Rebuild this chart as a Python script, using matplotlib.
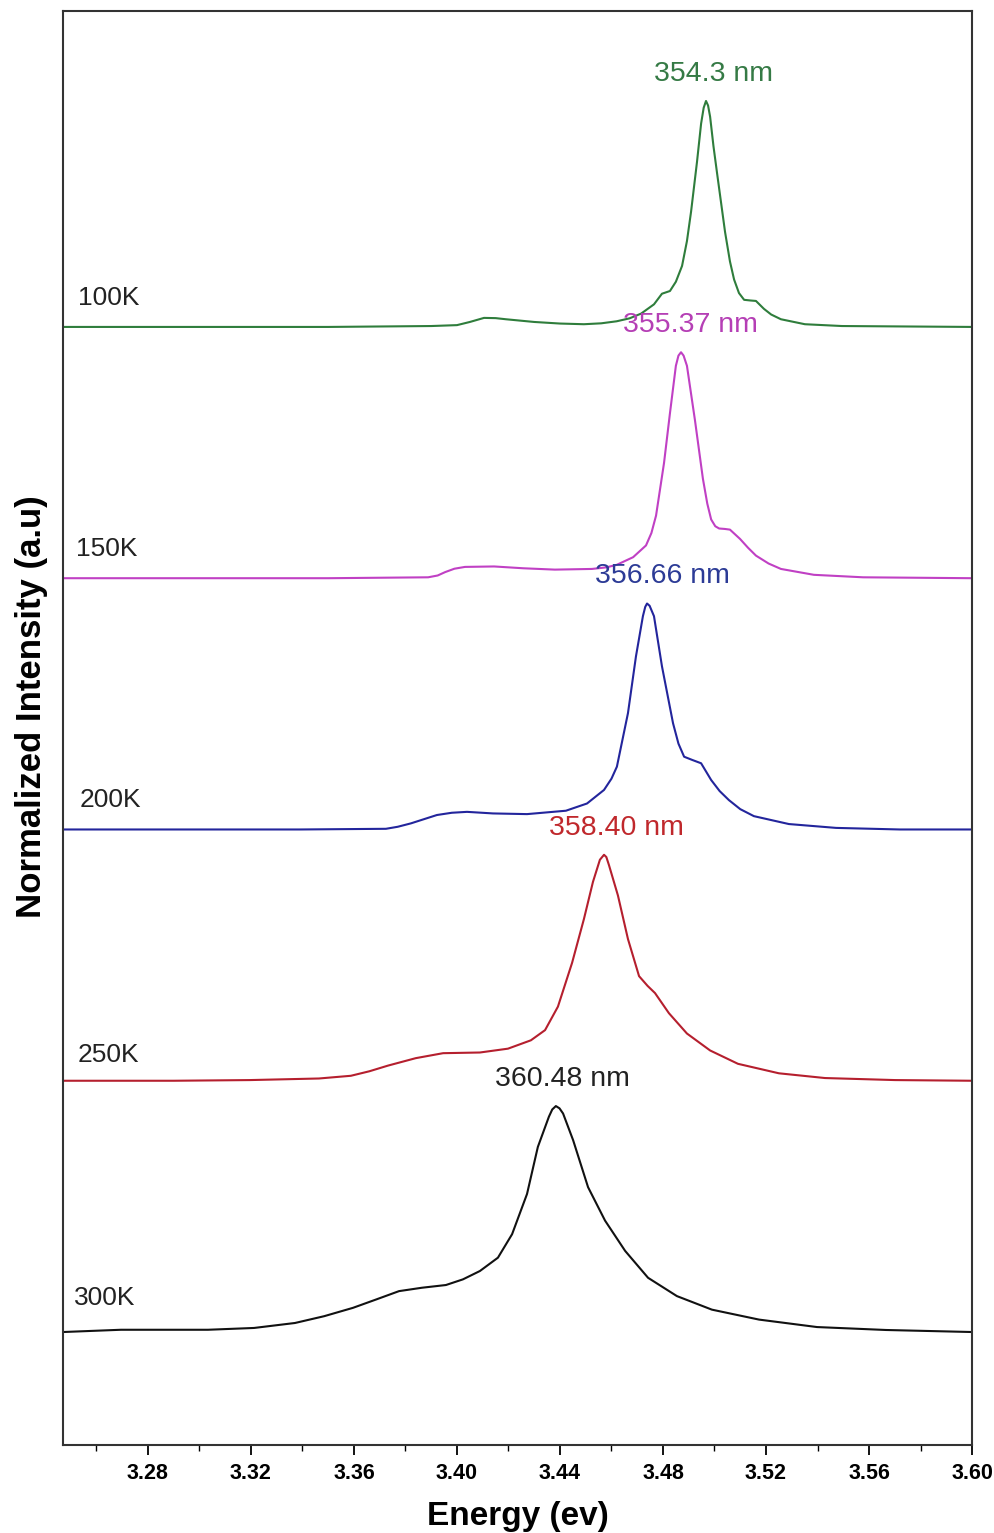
import matplotlib
matplotlib.use("Agg")
import matplotlib.pyplot as plt
from matplotlib.ticker import MultipleLocator

plt.rcParams["font.family"] = ["Liberation Sans", "DejaVu Sans"]

# Spectra: photon energy (eV) and normalized intensity
energy_100k = [3.247, 3.30, 3.35, 3.39, 3.400, 3.405, 3.4105, 3.415, 3.419, 3.43,
               3.44, 3.4493, 3.456, 3.462, 3.467, 3.4715, 3.4765, 3.4796, 3.4827, 3.485,
               3.4874, 3.4893, 3.4909, 3.4932, 3.4948, 3.4958, 3.4967, 3.4975, 3.4983,
               3.4996, 3.501, 3.5041, 3.506, 3.5076, 3.5095, 3.5115, 3.514, 3.5161,
               3.5192, 3.522, 3.5258, 3.5351, 3.5495, 3.60]
intensity_100k = [0.0, 0.0, 0.0, 0.004, 0.008, 0.022, 0.04, 0.039, 0.034, 0.022,
                  0.015, 0.012, 0.016, 0.025, 0.038, 0.059, 0.10, 0.147, 0.159, 0.20,
                  0.27, 0.38, 0.51, 0.73, 0.90, 0.97, 1.0, 0.98, 0.93,
                  0.80, 0.68, 0.42, 0.29, 0.21, 0.15, 0.12, 0.117, 0.115,
                  0.08, 0.055, 0.034, 0.012, 0.004, 0.0]

energy_150k = [3.247, 3.30, 3.35, 3.3888, 3.3925, 3.3954, 3.399, 3.4031, 3.4144, 3.4257,
               3.438, 3.4524, 3.458, 3.462, 3.4684, 3.4734, 3.4755, 3.4773, 3.4804,
               3.4827, 3.485, 3.486, 3.487, 3.488, 3.4893, 3.4924, 3.4955, 3.4972,
               3.4987, 3.5003, 3.5018, 3.504, 3.506, 3.5099, 3.513, 3.5161, 3.521,
               3.5258, 3.5386, 3.5577, 3.60]
intensity_150k = [0.0, 0.0, 0.0, 0.004, 0.012, 0.027, 0.042, 0.05, 0.052, 0.044,
                  0.038, 0.041, 0.048, 0.059, 0.093, 0.145, 0.20, 0.277, 0.51,
                  0.73, 0.94, 0.985, 1.0, 0.985, 0.94, 0.70, 0.44, 0.33,
                  0.26, 0.23, 0.22, 0.218, 0.215, 0.174, 0.135, 0.10, 0.065,
                  0.041, 0.015, 0.004, 0.0]

energy_200k = [3.247, 3.30, 3.339, 3.3724, 3.377, 3.3821, 3.3922, 3.398, 3.4039, 3.414,
               3.4272, 3.4423, 3.4505, 3.4571, 3.46, 3.4621, 3.4664, 3.4695, 3.4722,
               3.4731, 3.4738, 3.4748, 3.4765, 3.4796, 3.4839, 3.486, 3.4882, 3.4913,
               3.4948, 3.4987, 3.502, 3.5056, 3.51, 3.5153, 3.5289, 3.5472, 3.572, 3.60]
intensity_200k = [0.0, 0.0, 0.0, 0.003, 0.012, 0.027, 0.064, 0.074, 0.078, 0.071,
                  0.068, 0.083, 0.115, 0.175, 0.225, 0.278, 0.515, 0.766, 0.944,
                  0.985, 1.0, 0.99, 0.944, 0.722, 0.47, 0.38, 0.322, 0.308,
                  0.293, 0.219, 0.17, 0.13, 0.09, 0.059, 0.024, 0.007, 0.0, 0.0]

energy_250k = [3.247, 3.29, 3.3196, 3.3464, 3.3588, 3.366, 3.3732, 3.384, 3.3946, 3.4089,
               3.4198, 3.4287, 3.4342, 3.4392, 3.4447, 3.4493, 3.4528, 3.4555, 3.4571,
               3.458, 3.459, 3.4625, 3.4664, 3.4707, 3.474, 3.4769, 3.4823, 3.4893,
               3.4983, 3.5091, 3.525, 3.5429, 3.5701, 3.60]
intensity_250k = [0.0, 0.0, 0.003, 0.01, 0.022, 0.042, 0.067, 0.10, 0.122, 0.125,
                  0.142, 0.179, 0.224, 0.328, 0.522, 0.716, 0.88, 0.978, 1.0,
                  0.99, 0.955, 0.82, 0.627, 0.463, 0.42, 0.388, 0.299, 0.209,
                  0.134, 0.075, 0.033, 0.012, 0.003, 0.0]

energy_300k = [3.247, 3.2695, 3.3033, 3.3212, 3.3371, 3.3484, 3.3596, 3.3686, 3.3775, 3.3864,
               3.3957, 3.4023, 3.4089, 3.4159, 3.4214, 3.4272, 3.4314, 3.4357, 3.437,
               3.4384, 3.4398, 3.4412, 3.4451, 3.4509, 3.4575, 3.4653, 3.4742, 3.4854,
               3.499, 3.5173, 3.5398, 3.5666, 3.60]
intensity_300k = [0.0, 0.01, 0.01, 0.018, 0.04, 0.07, 0.107, 0.144, 0.181, 0.196,
                  0.208, 0.233, 0.27, 0.329, 0.433, 0.611, 0.819, 0.953, 0.985,
                  1.0, 0.99, 0.967, 0.849, 0.641, 0.493, 0.359, 0.24, 0.159,
                  0.099, 0.055, 0.022, 0.009, 0.0]

temperatures = ["100K", "150K", "200K", "250K", "300K"]
peak_labels = ["354.3 nm", "355.37 nm", "356.66 nm", "358.40 nm", "360.48 nm"]
peak_label_energy = [3.4998, 3.4905, 3.4796, 3.4618, 3.4408]

spectra = [
    (energy_100k, intensity_100k),
    (energy_150k, intensity_150k),
    (energy_200k, intensity_200k),
    (energy_250k, intensity_250k),
    (energy_300k, intensity_300k),
]

# vertical stacking of the normalized curves
offsets = [4.448, 3.336, 2.224, 1.112, 0.0]
line_colors = ["#2f7d3c", "#c040c4", "#23259c", "#b51f2e", "#111111"]
label_colors = ["#357a45", "#b53fb5", "#2c3b96", "#c0282c", "#222222"]
temp_label_x = [3.2528, 3.2521, 3.2536, 3.2528, 3.2513]
temp_label_dy = [0.13, 0.13, 0.13, 0.115, 0.15]

fig = plt.figure(figsize=(9.95, 15.33), dpi=100)
ax = fig.add_axes([0.0633, 0.0574, 0.9136, 0.9354])

for (energy, intensity), offset, color in zip(spectra, offsets, line_colors):
    ax.plot(energy, [v + offset for v in intensity], color=color, lw=1.5,
            solid_joinstyle="round")

for i, offset in enumerate(offsets):
    ax.text(temp_label_x[i], offset + temp_label_dy[i], temperatures[i],
            fontsize=19, color="#222222", ha="left", va="center")
    ax.text(peak_label_energy[i], offset + 1.12, peak_labels[i],
            fontsize=20.5, color=label_colors[i], ha="center", va="center")

ax.set_xlim(3.247, 3.60)
ax.set_ylim(-0.5, 5.846)
ax.xaxis.set_minor_locator(MultipleLocator(0.02))
ax.set_xticks([3.28, 3.32, 3.36, 3.40, 3.44, 3.48, 3.52, 3.56, 3.60])
ax.set_xticklabels(["3.28", "3.32", "3.36", "3.40", "3.44", "3.48", "3.52", "3.56", "3.60"],
                   fontsize=15.5, fontweight="bold")
ax.tick_params(axis="x", which="major", direction="out", length=7, width=1.3, pad=6)
ax.tick_params(axis="x", which="minor", direction="out", length=4, width=1.0)
ax.set_yticks([])

for spine in ax.spines.values():
    spine.set_linewidth(1.5)
    spine.set_color("#333333")

ax.set_xlabel("Energy (ev)", fontsize=24, fontweight="bold", labelpad=12)
ax.set_ylabel("Normalized Intensity (a.u)", fontsize=25, fontweight="bold")
ax.yaxis.set_label_coords(-0.016, 0.515)

fig.savefig("out.png", dpi=100)
